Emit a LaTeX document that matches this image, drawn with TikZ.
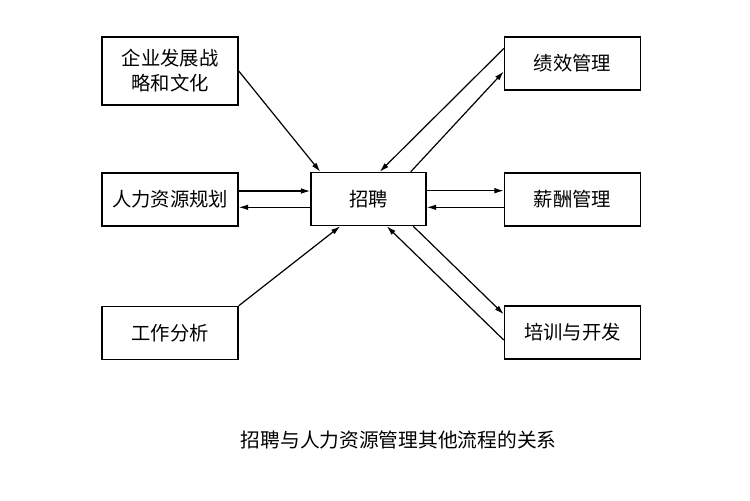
\documentclass[tikz,border=0pt]{standalone}
\usepackage{fontspec}
\setmainfont{Noto Sans CJK SC}
\usetikzlibrary{arrows.meta,calc}
\begin{document}
\begin{tikzpicture}[x=0.75pt,y=-0.75pt,
  box/.style={draw,line width=1.1pt,minimum width=102pt,minimum height=39.75pt,inner sep=0pt,align=center,font=\fontsize{14.5pt}{18.75pt}\selectfont},
  arr/.style={line width=0.9pt,-{Latex[length=7pt,width=4.2pt]}}]
\useasboundingbox (0,0) rectangle (750,500);
\node[box,minimum height=51pt] (ent) at (170,71) {企业发展战\\略和文化};
\node[box] (hrp) at (170,199.5) {人力资源规划};
\node[box] (job) at (170,333) {工作分析};
\node[box,minimum width=86.25pt] (rec) at (368.5,199) {招聘};
\node[box] (perf) at (572.5,63.5) {绩效管理};
\node[box] (pay) at (572.5,199.5) {薪酬管理};
\node[box] (train) at (572.5,332.5) {培训与开发};
\node[font=\fontsize{14.8pt}{18pt}\selectfont] (cap) at (398.7,440) {招聘与人力资源管理其他流程的关系};
% left side
\draw[arr] (ent.east) -- ($(rec.north west)+(10,0)$);
\coordinate (h1) at ($(hrp.east)+(0,-8.5)$);
\coordinate (h2) at ($(rec.west)+(0,8.3)$);
\draw[arr] (h1) -- (h1 -| rec.west);
\draw[arr] (h2) -- (h2 -| hrp.east);
\draw[arr] (job.north east) -- ($(rec.south west)+(30,0)$);
% right side
\draw[arr] ($(perf.west)+(0,-15)$) -- ($(rec.north east)+(-47,0)$);
\draw[arr] ($(rec.north east)+(-16,0)$) -- ($(perf.west)+(0,8)$);
\coordinate (p1) at ($(rec.east)+(0,-8.3)$);
\coordinate (p2) at ($(pay.west)+(0,7.8)$);
\draw[arr] (p1) -- (p1 -| pay.west);
\draw[arr] (p2) -- (p2 -| rec.east);
\draw[arr] ($(rec.south east)+(-13.5,0)$) -- ($(train.north west)+(0,9)$);
\draw[arr] ($(train.west)+(0,7.5)$) -- ($(rec.south east)+(-40,0)$);
\end{tikzpicture}
\end{document}
